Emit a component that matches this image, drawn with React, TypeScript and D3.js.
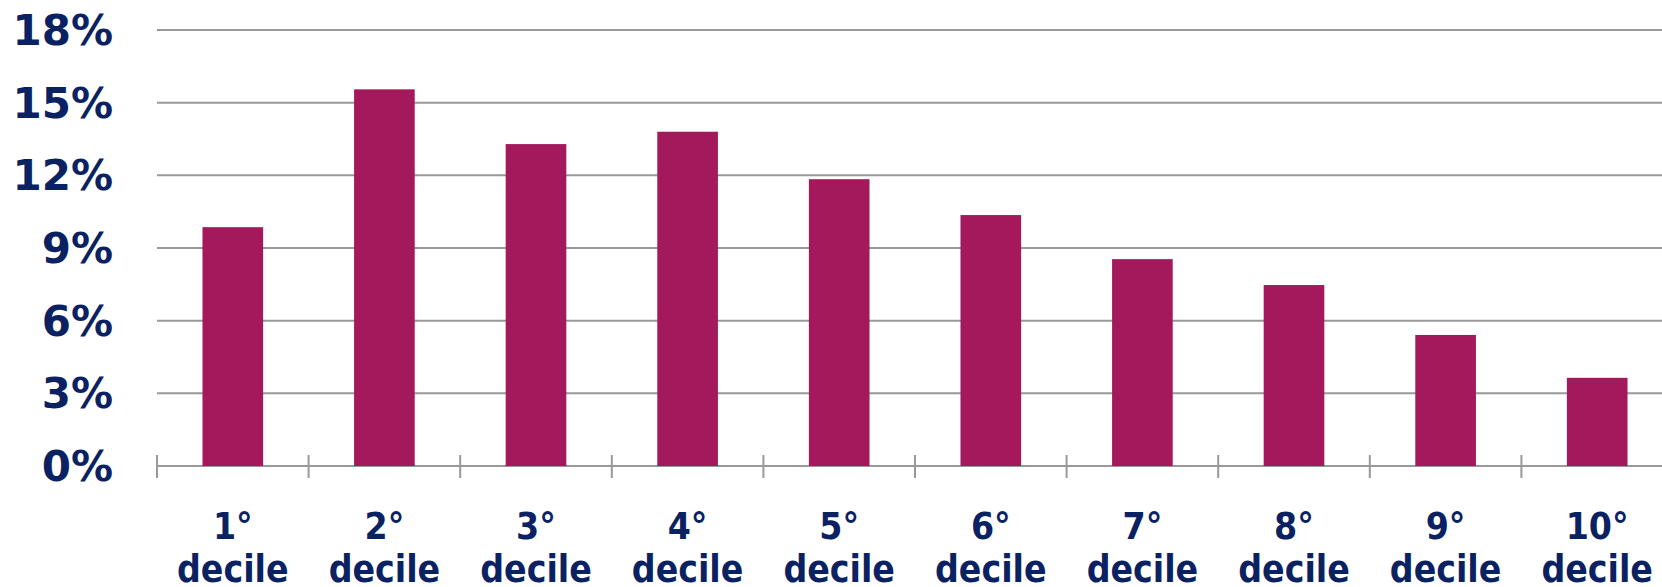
import React from "react";
import * as d3 from "d3";

const categories = ["1°", "2°", "3°", "4°", "5°", "6°", "7°", "8°", "9°", "10°"];
const values = [9.86, 15.55, 13.29, 13.8, 11.84, 10.36, 8.54, 7.47, 5.41, 3.64];
const yTicks = [0, 3, 6, 9, 12, 15, 18];
const secondLine = "decile";

const W = 1662;
const H = 587;
const left = 157;
const right = 1673;
const top = 30;
const bottom = 466;

const textColor = "#0b2262";
const barColor = "#a3195b";
const gridColor = "#999999";
const condensed = "'DejaVu Sans Condensed', 'DejaVu Sans', sans-serif";
const wide = "'DejaVu Sans', sans-serif";

export default function App() {
  const x = d3
    .scaleBand<string>()
    .domain(categories)
    .range([left, right])
    .paddingInner(0.6)
    .paddingOuter(0.3);
  const y = d3.scaleLinear().domain([0, 18]).range([bottom, top]);
  const step = x.step();
  const boundaries = d3.range(categories.length + 1).map((i) => left + i * step);

  return (
    <svg
      width={W}
      height={H}
      style={{ position: "absolute", left: 0, top: 0, background: "#fff" }}
    >
      {yTicks.map((t) => (
        <g key={t}>
          <line x1={left} x2={right} y1={y(t)} y2={y(t)} stroke={gridColor} strokeWidth={2} />
          <text
            x={113}
            y={y(t)}
            dy="0.36em"
            textAnchor="end"
            fontFamily={wide}
            fontWeight="bold"
            fontSize={42}
            fill={textColor}
          >
            {t}%
          </text>
        </g>
      ))}
      {boundaries.map((b, i) => (
        <line key={i} x1={b} x2={b} y1={bottom - 11} y2={bottom + 12} stroke={gridColor} strokeWidth={2} />
      ))}
      {categories.map((c, i) => (
        <rect
          key={c}
          x={x(c)}
          y={y(values[i])}
          width={x.bandwidth()}
          height={y(0) - y(values[i])}
          fill={barColor}
        />
      ))}
      {categories.map((c) => {
        const cx = (x(c) as number) + x.bandwidth() / 2;
        return (
          <text
            key={c}
            x={cx}
            textAnchor="middle"
            fontFamily={condensed}
            fontWeight="bold"
            fontSize={37}
            fill={textColor}
          >
            <tspan x={cx} y={539}>{c}</tspan>
            <tspan x={cx} y={582}>{secondLine}</tspan>
          </text>
        );
      })}
    </svg>
  );
}
